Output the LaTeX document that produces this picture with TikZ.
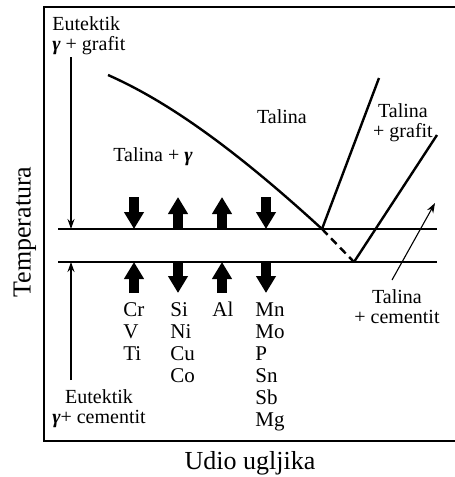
\documentclass[tikz,border=0pt]{standalone}
\usepackage{fontspec}
\setmainfont{Liberation Serif}
\usetikzlibrary{arrows.meta,positioning}
\newcommand{\gam}{\textbf{\textit{γ}}}

\begin{document}
\begin{tikzpicture}[x=0.5pt, y=-0.5pt, >=Stealth,
  every node/.style={font=\fontsize{10}{10}\selectfont, inner sep=0pt},
  phase/.style={line width=1.2pt},
  guide/.style={line width=0.55pt, -{Stealth[width=3.5pt, length=5pt]}},
  bigarrow/.style={line width=5pt, -{Triangle[width=9.5pt, length=8.5pt]}},
  elem/.style={align=left, anchor=north west, font=\fontsize{10.5}{11}\selectfont},
  axis/.style={font=\fontsize{13}{13}\selectfont}]
\useasboundingbox (0,0) rectangle (455,477);

% frame
\draw[line width=1pt] (460,7) -- (44,7) -- (44,441) -- (460,441);

% eutectic lines and liquidus
\coordinate (upL) at (58,229);  \coordinate (upR) at (437,229);
\coordinate (loL) at (58,262);  \coordinate (loR) at (437,262);
\coordinate (eg) at (322,229);  \coordinate (ec) at (354,262);
\coordinate (liqTop) at (108,75);
\coordinate (grTop) at (379,78);
\coordinate (grEnd) at (437,135);
\draw[phase] (upL) -- (upR);
\draw[phase] (loL) -- (loR);
\draw[phase] (liqTop) .. controls (160,98) and (225,140) .. (eg);
\draw[phase] (eg) -- (grTop);
\draw[phase] (ec) -- (grEnd);
\draw[phase, dash pattern=on 4pt off 2.5pt] (eg) -- (ec);

% alloying elements: shift of the eutectic temperatures
\foreach \x/\s/\t in {134/197/229, 178/229/197, 222/229/197, 266/197/229}
  \draw[bigarrow] (\x,\s) -- (\x,\t);
\foreach \x/\s/\t in {134/293/262, 178/262/293, 222/293/262, 266/262/293}
  \draw[bigarrow] (\x,\s) -- (\x,\t);

\node[elem] (crV) at (123,302) {Cr\\V\\Ti};
\node[elem] (siNi) at (170,302) {Si\\Ni\\Cu\\Co};
\node[elem] (al) at (212,302) {Al};
\node[elem] (mnMo) at (255,302) {Mn\\Mo\\P\\Sn\\Sb\\Mg};

% labels
\node[anchor=north west, align=left] (eutG) at (52,16) {Eutektik\\\gam{} + grafit};
\node[anchor=north, align=center] (eutC) at (99,389) {Eutektik\\\gam+ cementit};
\node (talGam) at (153,157) {Talina + \gam};
\node (tal) at (282,117) {Talina};
\node[align=center] (talGr) at (403,123) {Talina\\+ grafit};
\node[align=center] (talCem) at (397,307) {Talina\\+ cementit};
\node[axis, rotate=90] (temp) at (25,232) {Temperatura};
\node[axis] (udio) at (250,463) {Udio ugljika};

% pointers
\coordinate (gTail) at (71,57);   \coordinate (gHead) at (71,229);
\coordinate (cTail) at (71,380);  \coordinate (cHead) at (71,262);
\coordinate (tcTail) at (392,280); \coordinate (tcHead) at (435,203);
\draw[guide] (gTail) -- (gHead);
\draw[guide] (cTail) -- (cHead);
\draw[guide] (tcTail) -- (tcHead);
\end{tikzpicture}
\end{document}
